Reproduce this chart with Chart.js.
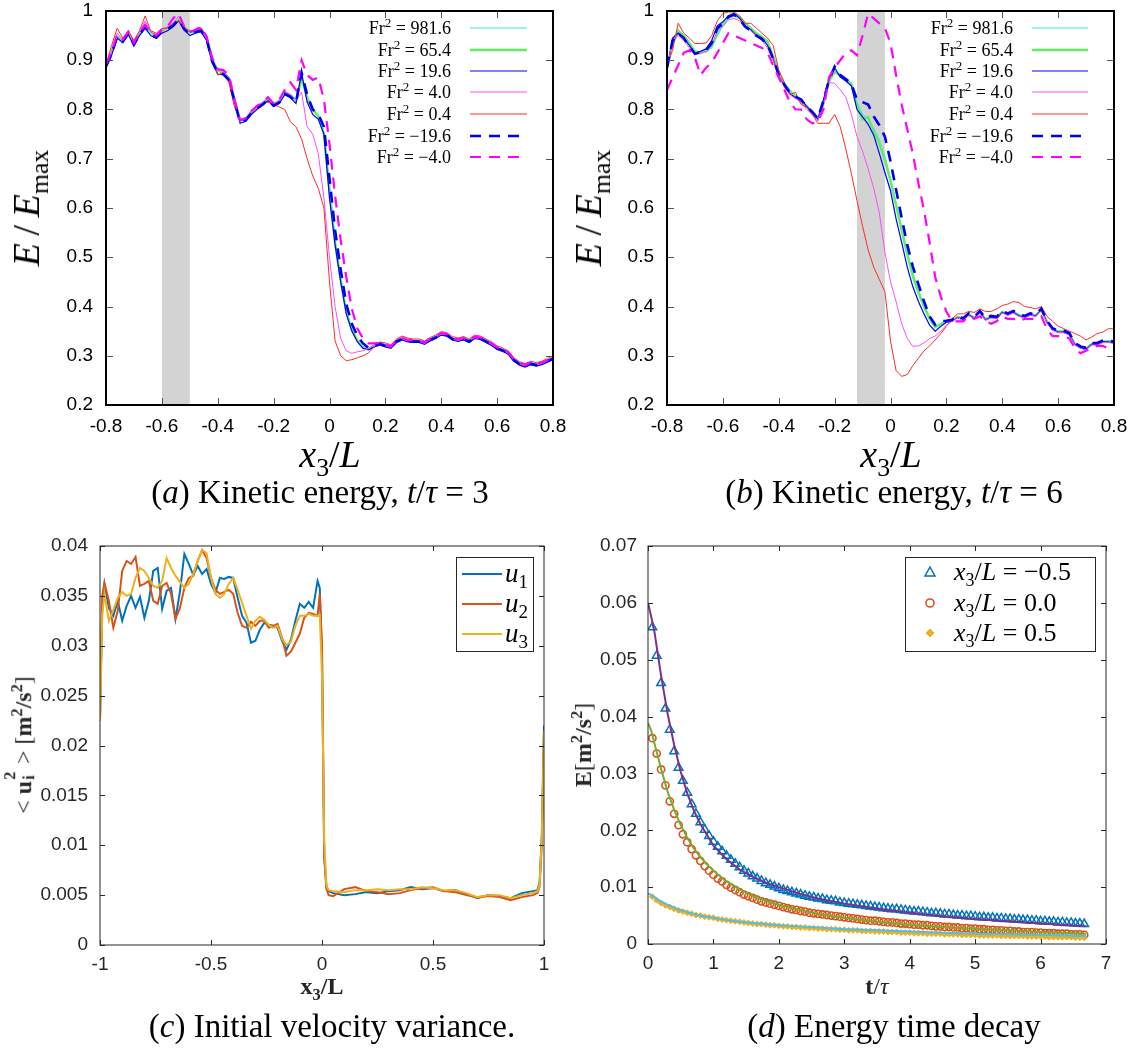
<!DOCTYPE html>
<html>
<head>
<meta charset="utf-8">
<script src="https://cdn.jsdelivr.net/npm/chart.js@4.4.1/dist/chart.umd.min.js"></script>
<style>
body { margin: 0; background: #fff; width: 1140px; height: 1053px; position: relative; overflow: hidden; }
canvas { position: absolute; }
.lbl { position: absolute; white-space: nowrap; transform: translate(-50%, -50%); font-family: 'Liberation Serif', 'Times New Roman', serif; line-height: 1; color: #000; z-index: 2; }
.rot { transform: translate(-50%, -50%) rotate(-90deg); }
.lbl sub, .lbl sup { font-size: 68%; line-height: 0; }
.ss { display: inline-block; position: relative; width: 0.45em; height: 1em; vertical-align: -0.1em; }
.ss span { position: absolute; left: 1px; font-size: 68%; font-weight: bold; line-height: 1; }
.ss .sp { top: -0.45em; }
.ss .sb { top: 0.75em; }
.cap { font-size: 33px; }
.big { font-size: 38px; }
.small { font-size: 24px; color: #262626; }
</style>
</head>
<body>
<canvas id="energyA" width="570" height="470" style="left:0;top:0"></canvas>
<canvas id="energyB" width="570" height="470" style="left:570px;top:0"></canvas>
<canvas id="varianceC" width="570" height="540" style="left:0;top:500px"></canvas>
<canvas id="decayD" width="570" height="540" style="left:570px;top:500px"></canvas>

<div class="lbl rot big" style="left:26px;top:208px"><i>E</i>&thinsp;/&thinsp;<i>E</i><sub>max</sub></div>
<div class="lbl big" style="left:330px;top:454px"><i>x</i><sub>3</sub>/<i>L</i></div>
<div class="lbl cap" style="left:320px;top:492px">(<i>a</i>) Kinetic energy, <i>t</i>/<i>τ</i> = 3</div>

<div class="lbl rot big" style="left:588px;top:208px"><i>E</i>&thinsp;/&thinsp;<i>E</i><sub>max</sub></div>
<div class="lbl big" style="left:891px;top:454px"><i>x</i><sub>3</sub>/<i>L</i></div>
<div class="lbl cap" style="left:894px;top:492px">(<i>b</i>) Kinetic energy, <i>t</i>/<i>τ</i> = 6</div>

<div class="lbl rot small" style="left:22px;top:745px">&lt; <b>u</b><span class="ss"><span class="sp">2</span><span class="sb">i</span></span> &gt; [<b>m</b><sup><b>2</b></sup><b>/s</b><sup><b>2</b></sup>]</div>
<div class="lbl small" style="left:322px;top:986px"><b>x</b><sub><b>3</b></sub><b>/L</b></div>
<div class="lbl cap" style="left:332px;top:1026px">(<i>c</i>) Initial velocity variance.</div>

<div class="lbl rot small" style="left:583px;top:745px"><b>E</b>[<b>m</b><sup><b>2</b></sup><b>/s</b><sup><b>2</b></sup>]</div>
<div class="lbl small" style="left:877px;top:986px"><b>t</b>/<i>τ</i></div>
<div class="lbl cap" style="left:894px;top:1026px">(<i>d</i>) Energy time decay</div>

<script>
// ---------- data: kinetic energy profiles (a) t/tau = 3 and (b) t/tau = 6 ----------
const X_AB = [-0.8,-0.78,-0.76,-0.74,-0.72,-0.7,-0.68,-0.66,-0.64,-0.62,-0.6,-0.58,-0.56,-0.54,-0.52,-0.5,-0.48,-0.46,-0.44,-0.42,
  -0.4,-0.38,-0.36,-0.34,-0.32,-0.3,-0.28,-0.26,-0.24,-0.22,-0.2,-0.18,-0.16,-0.14,-0.12,-0.1,-0.08,-0.06,-0.04,-0.02,
  0,0.02,0.04,0.06,0.08,0.1,0.12,0.14,0.16,0.18,0.2,0.22,0.24,0.26,0.28,0.3,0.32,0.34,0.36,0.38,
  0.4,0.42,0.44,0.46,0.48,0.5,0.52,0.54,0.56,0.58,0.6,0.62,0.64,0.66,0.68,0.7,0.72,0.74,0.76,0.78,0.8];
const FR_LABELS = ["981.6", "65.4", "19.6", "4.0", "0.4", "\u221219.6", "\u22124.0"];
const BAND_A = [-0.6, -0.5];
const BAND_B = [-0.12, -0.02];

const A_FR981 = [0.890,0.915,0.950,0.940,0.957,0.935,0.955,0.970,0.955,0.948,0.960,0.965,0.972,0.985,0.965,0.955,0.960,0.963,0.945,0.900,
  0.878,0.875,0.862,0.818,0.776,0.780,0.795,0.805,0.812,0.822,0.810,0.815,0.835,0.828,0.815,0.865,0.820,0.800,0.785,0.755,
  0.640,0.532,0.455,0.390,0.352,0.331,0.318,0.314,0.320,0.325,0.322,0.318,0.330,0.336,0.332,0.330,0.330,0.326,0.333,0.338,
  0.345,0.343,0.335,0.332,0.335,0.330,0.338,0.336,0.330,0.324,0.316,0.312,0.306,0.292,0.284,0.280,0.285,0.282,0.285,0.290,0.295];
const A_FR65 = [0.892,0.918,0.948,0.942,0.955,0.937,0.953,0.968,0.957,0.950,0.958,0.967,0.970,0.983,0.967,0.957,0.958,0.962,0.947,0.902,
  0.880,0.873,0.864,0.820,0.778,0.782,0.793,0.807,0.810,0.820,0.812,0.817,0.833,0.830,0.818,0.862,0.825,0.800,0.787,0.750,
  0.640,0.530,0.455,0.390,0.352,0.332,0.318,0.314,0.320,0.326,0.321,0.319,0.331,0.335,0.331,0.331,0.329,0.327,0.332,0.337,
  0.344,0.342,0.334,0.331,0.334,0.331,0.337,0.335,0.329,0.323,0.315,0.311,0.305,0.291,0.283,0.279,0.284,0.281,0.284,0.289,0.294];
const A_FR19 = [0.885,0.910,0.945,0.936,0.952,0.930,0.950,0.965,0.950,0.945,0.955,0.960,0.968,0.980,0.962,0.950,0.955,0.958,0.940,0.895,
  0.872,0.870,0.858,0.815,0.772,0.776,0.790,0.800,0.808,0.818,0.806,0.812,0.830,0.824,0.812,0.875,0.815,0.790,0.780,0.750,
  0.620,0.525,0.450,0.385,0.350,0.328,0.315,0.312,0.318,0.322,0.318,0.315,0.327,0.332,0.328,0.327,0.327,0.323,0.330,0.335,
  0.342,0.340,0.332,0.329,0.332,0.327,0.335,0.333,0.327,0.321,0.313,0.309,0.303,0.289,0.281,0.277,0.282,0.279,0.282,0.287,0.292];
const A_FR4 = [0.890,0.918,0.955,0.942,0.960,0.938,0.958,0.980,0.958,0.950,0.962,0.968,0.975,0.990,0.968,0.958,0.962,0.967,0.948,0.902,
  0.880,0.878,0.865,0.820,0.778,0.783,0.798,0.808,0.815,0.825,0.812,0.818,0.838,0.830,0.820,0.835,0.765,0.750,0.710,0.620,
  0.500,0.400,0.335,0.310,0.305,0.308,0.310,0.315,0.322,0.326,0.323,0.320,0.332,0.337,0.333,0.331,0.331,0.327,0.334,0.339,
  0.346,0.344,0.336,0.333,0.336,0.331,0.339,0.337,0.331,0.325,0.317,0.313,0.307,0.293,0.285,0.281,0.286,0.283,0.286,0.291,0.297];
const A_FR04 = [0.890,0.930,0.965,0.945,0.960,0.940,0.960,0.990,0.960,0.955,0.965,0.965,0.975,0.980,0.965,0.960,0.960,0.965,0.950,0.905,
  0.870,0.875,0.855,0.805,0.780,0.780,0.795,0.805,0.812,0.815,0.810,0.805,0.800,0.775,0.765,0.740,0.700,0.665,0.640,0.600,
  0.450,0.330,0.300,0.290,0.292,0.296,0.300,0.306,0.318,0.328,0.326,0.322,0.334,0.340,0.336,0.334,0.334,0.330,0.337,0.342,
  0.349,0.347,0.339,0.336,0.339,0.334,0.342,0.340,0.334,0.328,0.320,0.316,0.310,0.296,0.288,0.284,0.289,0.286,0.289,0.294,0.300];
const A_FRM19 = [0.888,0.912,0.948,0.938,0.955,0.932,0.952,0.968,0.952,0.946,0.958,0.963,0.970,0.983,0.963,0.952,0.958,0.960,0.943,0.898,
  0.875,0.872,0.860,0.817,0.774,0.778,0.792,0.803,0.810,0.820,0.808,0.814,0.832,0.826,0.814,0.875,0.830,0.800,0.790,0.765,
  0.660,0.555,0.475,0.405,0.365,0.340,0.325,0.316,0.320,0.324,0.320,0.317,0.329,0.334,0.330,0.329,0.329,0.325,0.332,0.337,
  0.344,0.342,0.334,0.331,0.334,0.329,0.337,0.335,0.329,0.323,0.315,0.311,0.305,0.291,0.283,0.279,0.284,0.281,0.284,0.289,0.294];
const A_FRM4 = [0.892,0.918,0.952,0.942,0.958,0.936,0.957,0.972,0.957,0.950,0.962,0.968,0.985,0.995,0.968,0.957,0.962,0.968,0.948,0.905,
  0.882,0.880,0.870,0.820,0.778,0.782,0.797,0.807,0.815,0.825,0.812,0.820,0.840,0.855,0.840,0.900,0.870,0.860,0.865,0.820,
  0.730,0.625,0.535,0.460,0.395,0.355,0.335,0.325,0.325,0.326,0.322,0.319,0.331,0.336,0.332,0.331,0.331,0.327,0.334,0.339,
  0.346,0.344,0.336,0.333,0.336,0.331,0.339,0.337,0.331,0.325,0.317,0.313,0.307,0.293,0.285,0.281,0.286,0.283,0.286,0.291,0.297];

const B_FR981 = [0.890,0.930,0.955,0.945,0.930,0.915,0.913,0.920,0.925,0.950,0.970,0.985,0.990,0.985,0.975,0.962,0.952,0.945,0.935,0.905,
  0.872,0.850,0.835,0.825,0.818,0.808,0.795,0.782,0.815,0.860,0.878,0.868,0.860,0.850,0.815,0.790,0.780,0.762,0.738,0.705,
  0.660,0.610,0.560,0.510,0.468,0.432,0.403,0.378,0.360,0.365,0.370,0.372,0.380,0.375,0.385,0.378,0.390,0.375,0.380,0.378,
  0.390,0.385,0.390,0.383,0.380,0.385,0.383,0.395,0.370,0.355,0.350,0.350,0.345,0.325,0.318,0.315,0.325,0.325,0.330,0.330,0.328];
const B_FR65 = [0.885,0.935,0.960,0.950,0.935,0.918,0.915,0.918,0.928,0.955,0.975,0.990,0.995,0.988,0.975,0.965,0.955,0.948,0.938,0.908,
  0.875,0.852,0.838,0.827,0.816,0.806,0.793,0.780,0.812,0.858,0.876,0.870,0.862,0.852,0.810,0.780,0.785,0.755,0.731,0.697,
  0.655,0.605,0.555,0.505,0.461,0.428,0.400,0.375,0.358,0.365,0.369,0.371,0.379,0.374,0.384,0.377,0.389,0.374,0.379,0.377,
  0.389,0.384,0.389,0.382,0.379,0.384,0.382,0.394,0.369,0.354,0.349,0.349,0.344,0.324,0.317,0.314,0.324,0.324,0.329,0.329,0.327];
const B_FR19 = [0.880,0.945,0.955,0.945,0.930,0.914,0.918,0.923,0.940,0.970,0.978,0.990,0.995,0.985,0.970,0.962,0.950,0.945,0.930,0.902,
  0.868,0.848,0.832,0.824,0.822,0.806,0.795,0.780,0.820,0.862,0.885,0.866,0.858,0.848,0.800,0.785,0.770,0.748,0.711,0.672,
  0.635,0.578,0.530,0.480,0.440,0.410,0.385,0.362,0.350,0.360,0.368,0.370,0.378,0.373,0.383,0.376,0.388,0.373,0.378,0.376,
  0.388,0.383,0.388,0.381,0.378,0.383,0.381,0.393,0.368,0.353,0.348,0.348,0.343,0.323,0.316,0.313,0.323,0.323,0.328,0.328,0.326];
const B_FR4 = [0.885,0.940,0.950,0.940,0.925,0.912,0.915,0.918,0.930,0.960,0.968,0.982,0.985,0.980,0.972,0.960,0.950,0.940,0.925,0.900,
  0.870,0.845,0.830,0.822,0.815,0.800,0.790,0.778,0.810,0.855,0.853,0.840,0.825,0.790,0.745,0.715,0.680,0.640,0.590,0.510,
  0.450,0.410,0.365,0.335,0.319,0.320,0.326,0.335,0.340,0.350,0.362,0.370,0.378,0.372,0.382,0.375,0.387,0.372,0.377,0.375,
  0.387,0.382,0.387,0.380,0.377,0.382,0.380,0.392,0.367,0.352,0.347,0.347,0.342,0.322,0.315,0.312,0.322,0.322,0.327,0.327,0.325];
const B_FR04 = [0.890,0.920,0.975,0.955,0.945,0.934,0.934,0.935,0.950,0.980,0.995,0.998,0.998,0.990,0.975,0.975,0.965,0.955,0.945,0.930,
  0.880,0.855,0.830,0.835,0.810,0.805,0.790,0.772,0.772,0.772,0.790,0.765,0.720,0.670,0.615,0.563,0.515,0.480,0.455,0.430,
  0.330,0.270,0.258,0.262,0.280,0.295,0.310,0.320,0.332,0.345,0.360,0.375,0.385,0.385,0.390,0.388,0.395,0.390,0.390,0.395,
  0.402,0.405,0.410,0.408,0.400,0.398,0.395,0.400,0.380,0.370,0.360,0.355,0.350,0.345,0.340,0.332,0.338,0.345,0.348,0.355,0.355];
const B_FRM19 = [0.885,0.940,0.955,0.945,0.928,0.913,0.916,0.921,0.935,0.965,0.975,0.988,0.993,0.983,0.968,0.960,0.950,0.943,0.932,0.903,
  0.870,0.850,0.834,0.826,0.820,0.806,0.795,0.782,0.818,0.860,0.887,0.870,0.862,0.852,0.820,0.815,0.810,0.786,0.768,0.745,
  0.695,0.637,0.580,0.525,0.481,0.445,0.410,0.380,0.363,0.370,0.371,0.373,0.381,0.376,0.386,0.379,0.391,0.376,0.381,0.379,
  0.391,0.386,0.391,0.384,0.381,0.386,0.384,0.396,0.371,0.356,0.351,0.351,0.346,0.326,0.319,0.316,0.326,0.326,0.331,0.331,0.329];
const B_FRM4 = [0.840,0.865,0.890,0.915,0.920,0.905,0.870,0.885,0.895,0.915,0.935,0.955,0.950,0.945,0.940,0.935,0.930,0.925,0.915,0.890,
  0.865,0.840,0.815,0.800,0.800,0.780,0.772,0.775,0.800,0.865,0.885,0.900,0.915,0.920,0.910,0.950,0.995,0.985,0.975,0.965,
  0.935,0.870,0.810,0.760,0.710,0.650,0.595,0.530,0.460,0.420,0.390,0.370,0.370,0.370,0.380,0.375,0.380,0.370,0.365,0.370,
  0.380,0.375,0.375,0.370,0.375,0.375,0.375,0.380,0.355,0.340,0.340,0.340,0.335,0.315,0.305,0.310,0.315,0.320,0.320,0.315,0.315];

// ---------- data: initial velocity variance (c) ----------
const X_C = [-1,-0.99,-0.98,-0.96,-0.94,-0.92,-0.9,-0.88,-0.86,-0.84,-0.82,-0.8,-0.78,-0.76,-0.74,-0.72,-0.7,-0.68,-0.66,-0.64,
  -0.62,-0.6,-0.58,-0.56,-0.54,-0.52,-0.5,-0.48,-0.46,-0.44,-0.42,-0.4,-0.38,-0.36,-0.34,-0.32,-0.3,-0.28,-0.26,-0.24,
  -0.22,-0.2,-0.18,-0.16,-0.14,-0.12,-0.1,-0.08,-0.06,-0.04,-0.02,-0.01,0,0.01,0.02,0.03,0.05,0.1,0.15,0.2,
  0.25,0.3,0.35,0.4,0.45,0.5,0.55,0.6,0.65,0.7,0.75,0.8,0.85,0.9,0.95,0.97,0.98,0.99,1];
const U1_VAR = [0.0225,0.0340,0.0362,0.0338,0.0330,0.0345,0.0325,0.0340,0.0350,0.0338,0.0349,0.0328,0.0345,0.0375,0.0378,0.0337,0.0355,0.0358,0.0327,0.0354,
  0.0392,0.0382,0.0371,0.0380,0.0372,0.0377,0.0362,0.0353,0.0368,0.0367,0.0369,0.0368,0.0348,0.0330,0.0323,0.0303,0.0305,0.0316,0.0323,0.0321,
  0.0320,0.0318,0.0305,0.0296,0.0306,0.0325,0.0342,0.0338,0.0344,0.0338,0.0365,0.0358,0.0290,0.0088,0.0058,0.0054,0.0052,0.0050,0.0051,0.0053,
  0.0052,0.0054,0.0055,0.0058,0.0056,0.0057,0.0054,0.0055,0.0051,0.0047,0.0050,0.0049,0.0047,0.0052,0.0054,0.0055,0.0062,0.0110,0.0220];
const U2_VAR = [0.0225,0.0350,0.0363,0.0345,0.0318,0.0335,0.0375,0.0385,0.0382,0.0389,0.0360,0.0362,0.0365,0.0345,0.0342,0.0360,0.0363,0.0352,0.0327,0.0338,
  0.0358,0.0368,0.0370,0.0385,0.0396,0.0388,0.0368,0.0356,0.0352,0.0354,0.0356,0.0352,0.0333,0.0320,0.0318,0.0324,0.0320,0.0325,0.0325,0.0318,
  0.0320,0.0322,0.0308,0.0290,0.0294,0.0303,0.0312,0.0328,0.0333,0.0332,0.0330,0.0352,0.0300,0.0090,0.0056,0.0050,0.0049,0.0056,0.0058,0.0054,
  0.0053,0.0051,0.0052,0.0055,0.0057,0.0058,0.0054,0.0053,0.0050,0.0048,0.0049,0.0048,0.0045,0.0048,0.0050,0.0052,0.0058,0.0100,0.0210];
const U3_VAR = [0.0225,0.0330,0.0352,0.0325,0.0336,0.0348,0.0354,0.0350,0.0352,0.0368,0.0378,0.0375,0.0368,0.0360,0.0358,0.0365,0.0388,0.0378,0.0370,0.0364,
  0.0358,0.0362,0.0372,0.0385,0.0396,0.0393,0.0368,0.0352,0.0348,0.0352,0.0362,0.0368,0.0356,0.0343,0.0330,0.0317,0.0325,0.0329,0.0326,0.0321,
  0.0318,0.0320,0.0307,0.0301,0.0304,0.0320,0.0330,0.0330,0.0332,0.0330,0.0330,0.0331,0.0270,0.0105,0.0060,0.0055,0.0054,0.0053,0.0055,0.0055,
  0.0056,0.0055,0.0056,0.0056,0.0058,0.0057,0.0055,0.0055,0.0052,0.0048,0.0050,0.0050,0.0047,0.0050,0.0052,0.0054,0.0060,0.0105,0.0215];

// ---------- data: energy time decay (d) ----------
const T_MARK = [0.067,0.133,0.2,0.267,0.333,0.4,0.467,0.533,0.6,0.667,0.733,0.8,0.867,0.933,1,1.067,1.133,1.2,1.267,1.333,
  1.4,1.467,1.533,1.6,1.667,1.733,1.8,1.867,1.933,2,2.067,2.133,2.2,2.267,2.333,2.4,2.467,2.533,2.6,2.667,
  2.733,2.8,2.867,2.933,3,3.067,3.133,3.2,3.267,3.333,3.4,3.467,3.533,3.6,3.667,3.733,3.8,3.867,3.933,4,
  4.067,4.133,4.2,4.267,4.333,4.4,4.467,4.533,4.6,4.667,4.733,4.8,4.867,4.933,5,5.067,5.133,5.2,5.267,5.333,
  5.4,5.467,5.533,5.6,5.667,5.733,5.8,5.867,5.933,6,6.067,6.133,6.2,6.267,6.333,6.4,6.467,6.533,6.6,6.667];
const E_NEG = [0.0557,0.0507,0.0459,0.0414,0.0377,0.0339,0.0310,0.0287,0.0266,0.0246,0.0229,0.0214,0.0201,0.0190,0.0180,0.0171,0.0163,0.0155,0.0148,0.0141,
  0.0135,0.0129,0.0124,0.0119,0.0115,0.0111,0.0107,0.0104,0.0101,0.0098,0.0095,0.0093,0.0091,0.0089,0.0087,0.0085,0.0083,0.0082,0.0080,0.0079,
  0.0077,0.0076,0.0075,0.0073,0.0072,0.0071,0.0070,0.0069,0.0068,0.0067,0.0066,0.0065,0.0064,0.0063,0.0062,0.0061,0.0061,0.0060,0.0059,0.0058,
  0.0057,0.0057,0.0056,0.0055,0.0054,0.0054,0.0053,0.0052,0.0052,0.0051,0.0050,0.0050,0.0049,0.0049,0.0048,0.0047,0.0047,0.0046,0.0046,0.0045,
  0.0045,0.0044,0.0044,0.0043,0.0043,0.0042,0.0042,0.0041,0.0041,0.0040,0.0040,0.0039,0.0039,0.0038,0.0038,0.0037,0.0037,0.0036,0.0036,0.0035];
const E_ZERO = [0.0362,0.0335,0.0307,0.0279,0.0251,0.0229,0.0209,0.0193,0.0179,0.0167,0.0156,0.0146,0.0137,0.0129,0.0122,0.0115,0.0110,0.0104,0.0099,0.0095,
  0.0091,0.0087,0.0084,0.0081,0.0078,0.0075,0.0073,0.0071,0.0069,0.0067,0.0065,0.0063,0.0061,0.0060,0.0058,0.0057,0.0055,0.0054,0.0053,0.0052,
  0.0051,0.0050,0.0049,0.0048,0.0047,0.0046,0.0045,0.0044,0.0043,0.0042,0.0041,0.0041,0.0040,0.0039,0.0038,0.0038,0.0037,0.0036,0.0036,0.0035,
  0.0034,0.0034,0.0033,0.0033,0.0032,0.0031,0.0031,0.0030,0.0030,0.0029,0.0029,0.0028,0.0028,0.0027,0.0027,0.0026,0.0026,0.0025,0.0025,0.0024,
  0.0024,0.0023,0.0023,0.0022,0.0022,0.0021,0.0021,0.0021,0.0020,0.0020,0.0019,0.0019,0.0019,0.0018,0.0018,0.0018,0.0017,0.0017,0.0017,0.0016];
const E_POS = [0.0083,0.0077,0.0072,0.0068,0.0065,0.0062,0.0059,0.0057,0.0055,0.0053,0.0051,0.0050,0.0048,0.0047,0.0046,0.0044,0.0043,0.0042,0.0041,0.0040,
  0.0039,0.0038,0.0037,0.0036,0.0035,0.0035,0.0034,0.0033,0.0033,0.0032,0.0031,0.0031,0.0030,0.0030,0.0029,0.0029,0.0028,0.0028,0.0027,0.0027,
  0.0026,0.0026,0.0026,0.0025,0.0025,0.0024,0.0024,0.0024,0.0023,0.0023,0.0023,0.0022,0.0022,0.0022,0.0021,0.0021,0.0021,0.0020,0.0020,0.0020,
  0.0019,0.0019,0.0019,0.0018,0.0018,0.0018,0.0018,0.0017,0.0017,0.0017,0.0017,0.0016,0.0016,0.0016,0.0016,0.0015,0.0015,0.0015,0.0015,0.0015,
  0.0014,0.0014,0.0014,0.0014,0.0014,0.0014,0.0013,0.0013,0.0013,0.0013,0.0013,0.0012,0.0012,0.0012,0.0012,0.0012,0.0012,0.0011,0.0011,0.0011];
const T_FIT = [0,0.05,0.1,0.15,0.2,0.3,0.4,0.5,0.6,0.7,0.8,0.9,1,1.2,1.4,1.6,1.8,2,2.3,2.6,3,3.5,4,4.5,5,5.5,6,6.7];
const FIT_NEG = [0.0600,0.0575,0.0548,0.0510,0.0472,0.0405,0.0350,0.0303,0.0265,0.0235,0.0211,0.0192,0.0173,0.0149,0.0131,0.0118,0.0108,0.0100,0.0089,0.0080,0.0071,0.0062,0.0055,0.0049,0.0044,0.0040,0.0036,0.0031];
const FIT_ZERO = [0.0389,0.0375,0.0352,0.0330,0.0308,0.0268,0.0236,0.0209,0.0187,0.0168,0.0153,0.0140,0.0129,0.0110,0.0096,0.0085,0.0076,0.0069,0.0060,0.0053,0.0046,0.0039,0.0034,0.0030,0.0027,0.0024,0.0021,0.0018];
const FIT_POS = [0.0089,0.0086,0.0082,0.0078,0.0075,0.0069,0.0064,0.0060,0.0056,0.0053,0.0050,0.0048,0.0046,0.0042,0.0039,0.0037,0.0035,0.0033,0.0031,0.0029,0.0026,0.0024,0.0022,0.0020,0.0018,0.0017,0.0016,0.0014];

// ---------- styles ----------
const SANS = "'Liberation Sans', Arial, sans-serif";
const SERIF = "'Liberation Serif', 'Times New Roman', serif";
const FR_STYLE = [
    { color: "#38e6e6", width: 1.1, dash: [] },
    { color: "#5ff05f", width: 2.4, dash: [] },
    { color: "#0000ff", width: 1.2, dash: [] },
    { color: "#ff4cff", width: 1.0, dash: [] },
    { color: "#ff2a2a", width: 1.0, dash: [] },
    { color: "#0000ee", width: 2.6, dash: [11, 8] },
    { color: "#ff00ff", width: 2.2, dash: [11, 8] },
];
const MATLAB = { blue: "#0072BD", red: "#D95319", yellow: "#EDB120", purple: "#7E2F8E", green: "#77AC30", cyan: "#4DBEEE" };

Chart.defaults.animation = false;
Chart.defaults.font.family = SANS;

function _xy(xs, ys) {
    return xs.map((x, i) => ({ x: x, y: ys[i] }));
}

// write mixed italic / sub / sup text on a canvas
function draw_math(ctx, parts, x, y, size) {
    parts.forEach(p => {
        const s = (p.sub || p.sup) ? Math.round(size * 0.7) : size;
        ctx.font = (p.italic ? "italic " : "") + s + "px " + SERIF;
        const dy = p.sub ? size * 0.22 : (p.sup ? -size * 0.38 : 0);
        ctx.fillText(p.t, x, y + dy);
        x += ctx.measureText(p.t).width;
    });
    return x;
}

function measure_math(ctx, parts, size) {
    let w = 0;
    parts.forEach(p => {
        const s = (p.sub || p.sup) ? Math.round(size * 0.7) : size;
        ctx.font = (p.italic ? "italic " : "") + s + "px " + SERIF;
        w += ctx.measureText(p.t).width;
    });
    return w;
}

// shaded x-range behind the curves
const bandPlugin = {
    id: "band",
    beforeDatasetsDraw(chart, args, opts) {
        if (!opts.range) { return; }
        const { ctx, chartArea: a, scales: { x } } = chart;
        const x0 = x.getPixelForValue(opts.range[0]);
        const x1 = x.getPixelForValue(opts.range[1]);
        ctx.save();
        ctx.fillStyle = opts.color;
        ctx.fillRect(x0, a.top, x1 - x0, a.bottom - a.top);
        ctx.restore();
    }
};

// box round the plot with inward ticks on all four sides
const framePlugin = {
    id: "frame",
    afterDatasetsDraw(chart, args, opts) {
        const { ctx, chartArea: a, scales: { x, y } } = chart;
        ctx.save();
        ctx.strokeStyle = opts.tickColor;
        ctx.lineWidth = opts.tickWidth;
        ctx.beginPath();
        x.ticks.forEach(t => {
            const px = Math.round(x.getPixelForValue(t.value)) + 0.5;
            ctx.moveTo(px, a.bottom); ctx.lineTo(px, a.bottom - opts.tickLen);
            ctx.moveTo(px, a.top); ctx.lineTo(px, a.top + opts.tickLen);
        });
        y.ticks.forEach(t => {
            const py = Math.round(y.getPixelForValue(t.value)) + 0.5;
            ctx.moveTo(a.left, py); ctx.lineTo(a.left + opts.tickLen, py);
            ctx.moveTo(a.right, py); ctx.lineTo(a.right - opts.tickLen, py);
        });
        ctx.stroke();
        ctx.strokeStyle = opts.color;
        ctx.lineWidth = opts.width;
        ctx.strokeRect(a.left, a.top, a.right - a.left, a.bottom - a.top);
        ctx.restore();
    }
};

// gnuplot style key: right aligned text, sample line after it
const frLegendPlugin = {
    id: "frLegend",
    afterDatasetsDraw(chart, args, opts) {
        const ctx = chart.ctx;
        ctx.save();
        ctx.fillStyle = "#000";
        ctx.textBaseline = "alphabetic";
        chart.data.datasets.forEach((ds, i) => {
            const y = opts.rows[i];
            const parts = [{ t: "Fr" }, { t: "2", sup: true }, { t: " = " + FR_LABELS[i] }];
            const w = measure_math(ctx, parts, opts.size);
            draw_math(ctx, parts, opts.right - w, y + opts.size * 0.32, opts.size);
            ctx.strokeStyle = ds.borderColor;
            ctx.lineWidth = ds.borderWidth;
            ctx.setLineDash(ds.borderDash || []);
            ctx.beginPath();
            ctx.moveTo(opts.lineX[0], y);
            ctx.lineTo(opts.lineX[1], y);
            ctx.stroke();
            ctx.setLineDash([]);
        });
        ctx.restore();
    }
};

// matlab style boxed legend
const boxLegendPlugin = {
    id: "boxLegend",
    afterDatasetsDraw(chart, args, opts) {
        const ctx = chart.ctx;
        const b = opts.box;
        ctx.save();
        ctx.fillStyle = "#fff";
        ctx.fillRect(b[0], b[1], b[2] - b[0], b[3] - b[1]);
        ctx.strokeStyle = "#262626";
        ctx.lineWidth = 1;
        ctx.strokeRect(b[0] + 0.5, b[1] + 0.5, b[2] - b[0], b[3] - b[1]);
        opts.entries.forEach((e, i) => {
            const y = opts.rows[i];
            const ds = chart.data.datasets[e.dataset];
            if (e.kind === "line") {
                ctx.strokeStyle = ds.borderColor;
                ctx.lineWidth = ds.borderWidth;
                ctx.beginPath();
                ctx.moveTo(opts.markX[0], y);
                ctx.lineTo(opts.markX[1], y);
                ctx.stroke();
            } else {
                const cx = opts.markX[0];
                ctx.strokeStyle = ds.borderColor;
                ctx.fillStyle = ds.backgroundColor;
                ctx.lineWidth = ds.borderWidth;
                ctx.beginPath();
                if (e.kind === "triangle") {
                    ctx.moveTo(cx, y - 5); ctx.lineTo(cx + 5, y + 4); ctx.lineTo(cx - 5, y + 4); ctx.closePath();
                } else if (e.kind === "circle") {
                    ctx.arc(cx, y, 4, 0, Math.PI * 2);
                } else {
                    ctx.moveTo(cx, y - 4); ctx.lineTo(cx + 4, y); ctx.lineTo(cx, y + 4); ctx.lineTo(cx - 4, y); ctx.closePath();
                }
                ctx.fill();
                ctx.stroke();
            }
            ctx.fillStyle = "#000";
            draw_math(ctx, e.parts, opts.textX, y + opts.size * 0.3, opts.size);
        });
        ctx.restore();
    }
};

function _axis(opts) {
    return {
        type: "linear",
        min: opts.min,
        max: opts.max,
        afterFit: opts.fit,
        ticks: {
            stepSize: opts.step,
            padding: opts.padding,
            color: opts.color,
            font: { family: SANS, size: opts.size },
            callback: opts.format,
        },
        grid: { display: false, drawTicks: false },
        border: { display: false },
    };
}

const fmt_fixed1 = v => (Math.abs(v) < 1e-9 ? "0" : (Math.abs(v - 1) < 1e-9 ? "1" : v.toFixed(1)));
const fmt_trim = v => String(+v.toFixed(4));

// sizes that place the plot area; tuned after the first layout pass
function _make_box(canvasW, canvasH, target) {
    return { target: target, yWidth: target.left, xHeight: canvasH - target.bottom, top: target.top, right: canvasW - target.right };
}

function _layout_padding(box) {
    return { top: box.top, right: box.right, left: 0, bottom: 0 };
}

// fixed axis sizes, and no extra room asked for by the end labels
function _fit_x(box) {
    return s => { s.height = box.xHeight; s.paddingLeft = 0; s.paddingRight = 0; };
}

function _fit_y(box) {
    return s => { s.width = box.yWidth; s.paddingTop = 0; s.paddingBottom = 0; };
}

// move the plot area onto its target rectangle
function fit_chart_area(chart, box) {
    for (let pass = 0; pass < 2; pass++) {
        const a = chart.chartArea;
        const t = box.target;
        box.yWidth += t.left - a.left;
        box.xHeight += a.bottom - t.bottom;
        box.top = Math.max(0, box.top + t.top - a.top);
        box.right = Math.max(0, box.right + a.right - t.right);
        chart.options.layout.padding = _layout_padding(box);
        chart.update();
    }
}

// build config for the kinetic energy profile panels
function _build_energy_profile_config(series, band, box, legend) {
    const datasets = series.map((ys, i) => ({
        label: "Fr2 = " + FR_LABELS[i],
        data: _xy(X_AB, ys),
        showLine: true,
        pointRadius: 0,
        borderColor: FR_STYLE[i].color,
        borderWidth: FR_STYLE[i].width,
        borderDash: FR_STYLE[i].dash,
        order: series.length - i,
    }));
    return {
        type: "scatter",
        data: { datasets: datasets },
        options: {
            responsive: false,
            events: [],
            layout: { padding: _layout_padding(box) },
            plugins: {
                legend: { display: false },
                tooltip: { enabled: false },
                band: { range: band, color: "#d3d3d3" },
                frame: { color: "#000", width: 2, tickColor: "#555", tickWidth: 1, tickLen: 7 },
                frLegend: { rows: [28, 50, 71, 92, 114, 136, 157], right: legend.textRight, lineX: legend.lineX, size: 18 },
            },
            scales: {
                x: _axis({ min: -0.8, max: 0.8, step: 0.2, padding: 10, color: "#000", size: 19, format: fmt_fixed1, fit: _fit_x(box) }),
                y: _axis({ min: 0.2, max: 1, step: 0.1, padding: 13, color: "#000", size: 19, format: fmt_fixed1, fit: _fit_y(box) }),
            },
        },
        plugins: [bandPlugin, framePlugin, frLegendPlugin],
    };
}

// build config for the initial velocity variance panel
function _build_variance_config(box) {
    const lines = [[U1_VAR, MATLAB.blue], [U2_VAR, MATLAB.red], [U3_VAR, MATLAB.yellow]];
    const datasets = lines.map((l, i) => ({
        label: "u" + (i + 1),
        data: _xy(X_C, l[0]),
        showLine: true,
        pointRadius: 0,
        borderColor: l[1],
        borderWidth: 2,
        order: 3 - i,
    }));
    return {
        type: "scatter",
        data: { datasets: datasets },
        options: {
            responsive: false,
            events: [],
            layout: { padding: _layout_padding(box) },
            plugins: {
                legend: { display: false },
                tooltip: { enabled: false },
                frame: { color: "#262626", width: 1, tickColor: "#262626", tickWidth: 1, tickLen: 5 },
                boxLegend: {
                    box: [456, 57, 533, 151], rows: [74, 104, 134], markX: [462, 502], textX: 505, size: 27,
                    entries: [0, 1, 2].map(i => ({ dataset: i, kind: "line", parts: [{ t: "u", italic: true }, { t: String(i + 1), sub: true }] })),
                },
            },
            scales: {
                x: _axis({ min: -1, max: 1, step: 0.5, padding: 8, color: "#262626", size: 19, format: fmt_trim, fit: _fit_x(box) }),
                y: _axis({ min: 0, max: 0.04, step: 0.005, padding: 12, color: "#262626", size: 19, format: fmt_trim, fit: _fit_y(box) }),
            },
        },
        plugins: [framePlugin, boxLegendPlugin],
    };
}

// build config for the energy time decay panel
function _build_decay_config(box) {
    const legendText = v => [{ t: "x", italic: true }, { t: "3", sub: true }, { t: "/" }, { t: "L", italic: true }, { t: " = " + v }];
    const datasets = [
        { label: "x3/L = -0.5", data: _xy(T_MARK, E_NEG), pointStyle: "triangle", pointRadius: 5, borderColor: MATLAB.blue, backgroundColor: "rgba(0,0,0,0)", borderWidth: 1.5, order: 6 },
        { label: "x3/L = 0.0", data: _xy(T_MARK, E_ZERO), pointStyle: "circle", pointRadius: 3.6, borderColor: MATLAB.red, backgroundColor: "rgba(0,0,0,0)", borderWidth: 1.6, order: 5 },
        { label: "x3/L = 0.5", data: _xy(T_MARK, E_POS), pointStyle: "rectRot", pointRadius: 3, borderColor: MATLAB.yellow, backgroundColor: MATLAB.yellow, borderWidth: 1, order: 4 },
        { label: "fit -0.5", data: _xy(T_FIT, FIT_NEG), showLine: true, pointRadius: 0, borderColor: MATLAB.purple, borderWidth: 2, order: 3 },
        { label: "fit 0.0", data: _xy(T_FIT, FIT_ZERO), showLine: true, pointRadius: 0, borderColor: MATLAB.green, borderWidth: 2, order: 2 },
        { label: "fit 0.5", data: _xy(T_FIT, FIT_POS), showLine: true, pointRadius: 0, borderColor: MATLAB.cyan, borderWidth: 2, order: 1 },
    ];
    return {
        type: "scatter",
        data: { datasets: datasets },
        options: {
            responsive: false,
            events: [],
            layout: { padding: _layout_padding(box) },
            plugins: {
                legend: { display: false },
                tooltip: { enabled: false },
                frame: { color: "#262626", width: 1, tickColor: "#262626", tickWidth: 1, tickLen: 5 },
                boxLegend: {
                    box: [335, 57, 525, 151], rows: [72, 103, 133], markX: [360], textX: 384, size: 26,
                    entries: [
                        { dataset: 0, kind: "triangle", parts: legendText("\u22120.5") },
                        { dataset: 1, kind: "circle", parts: legendText("0.0") },
                        { dataset: 2, kind: "diamond", parts: legendText("0.5") },
                    ],
                },
            },
            scales: {
                x: _axis({ min: 0, max: 7, step: 1, padding: 8, color: "#262626", size: 19, format: fmt_trim, fit: _fit_x(box) }),
                y: _axis({ min: 0, max: 0.07, step: 0.01, padding: 11, color: "#262626", size: 19, format: fmt_trim, fit: _fit_y(box) }),
            },
        },
        plugins: [framePlugin, boxLegendPlugin],
    };
}

// function to create all four panels
function create_figure() {
    console.log("creating_energy_profile_graphs");
    const boxA = _make_box(570, 470, { left: 106, right: 553, top: 11, bottom: 405 });
    const chartA = new Chart("energyA", _build_energy_profile_config(
        [A_FR981, A_FR65, A_FR19, A_FR4, A_FR04, A_FRM19, A_FRM4], BAND_A, boxA,
        { textRight: 451, lineX: [470, 527] }));
    fit_chart_area(chartA, boxA);

    const boxB = _make_box(570, 470, { left: 97, right: 544, top: 11, bottom: 405 });
    const chartB = new Chart("energyB", _build_energy_profile_config(
        [B_FR981, B_FR65, B_FR19, B_FR4, B_FR04, B_FRM19, B_FRM4], BAND_B, boxB,
        { textRight: 443, lineX: [462, 518] }));
    fit_chart_area(chartB, boxB);

    console.log("creating_variance_graph");
    const boxC = _make_box(570, 540, { left: 100, right: 544, top: 46, bottom: 445 });
    const chartC = new Chart("varianceC", _build_variance_config(boxC));
    fit_chart_area(chartC, boxC);

    console.log("creating_decay_graph");
    const boxD = _make_box(570, 540, { left: 78, right: 536, top: 46, bottom: 444 });
    const chartD = new Chart("decayD", _build_decay_config(boxD));
    fit_chart_area(chartD, boxD);
}

create_figure();
</script>
</body>
</html>
